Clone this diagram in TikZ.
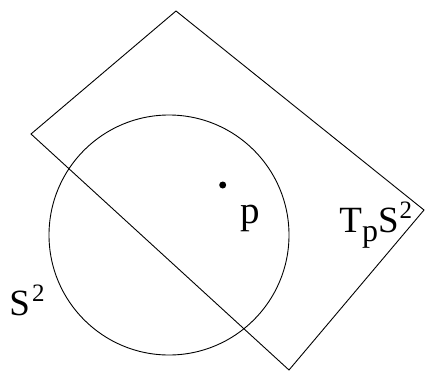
\documentclass[tikz,border=0pt]{standalone}
\usepackage{fontspec}
\setmainfont{Liberation Serif}
\begin{document}
\begin{tikzpicture}[x=1pt,y=-1pt,line width=0.9pt,
  lbl/.style={inner sep=0pt,font=\fontsize{37}{44}\selectfont},
  supfont/.style={}]
\useasboundingbox (0,0) rectangle (425,370);
\coordinate (T) at (176,11);
\coordinate (L) at (31,134);
\coordinate (B) at (289,370);
\coordinate (R) at (424,210);
\draw[line join=miter] (T) -- (R) -- (B) -- (L) -- cycle;
\node[circle,draw,minimum size=240pt,inner sep=0pt] (sphere) at (169,235) {};
\node[circle,fill,minimum size=7pt,inner sep=0pt] (pt) at (222.7,185) {};
\node[lbl,anchor=base west,font=\fontsize{39}{46}\selectfont] (plabel) at (240,223) {p};
\node[lbl,anchor=base west] (tlabel) at (339,232) {T\raisebox{-9pt}{\fontsize{32}{38}\selectfont p}S\kern1pt\raisebox{14pt}{\fontsize{25}{30}\selectfont 2}};
\node[lbl,anchor=base west] (slabel) at (9,315) {S\kern2pt\raisebox{14pt}{\fontsize{25}{30}\selectfont 2}};
\end{tikzpicture}
\end{document}
